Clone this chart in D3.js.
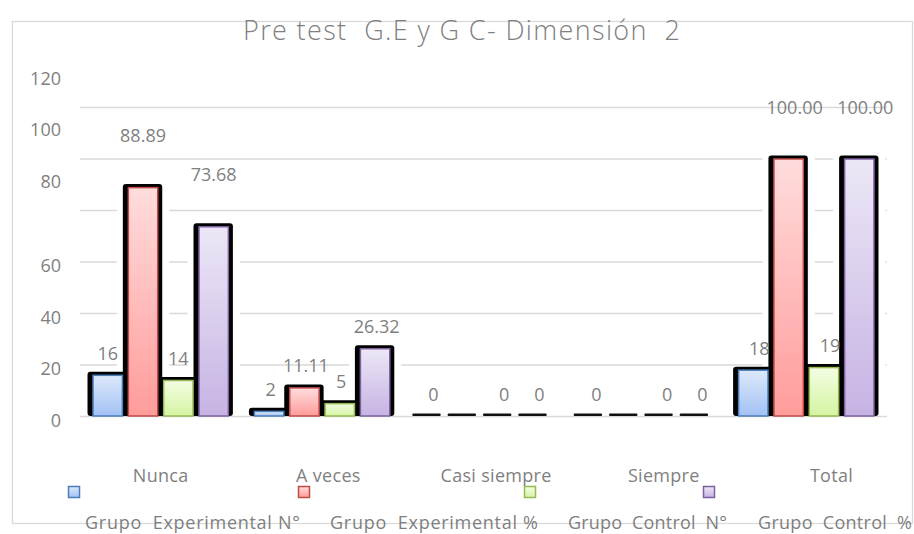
<!DOCTYPE html>
<html>
<head>
  <meta charset="utf-8" />
  <title>Pre test G.E y G C- Dimensión 2</title>
  <style type="text/css">
    body { margin: 0; background: #fff; }
    svg text { font-family: 'Open Sans', sans-serif; fill: #7f7f7f; white-space: pre; }
  </style>
</head>
<body>
  <div id="chart"></div>

  <script src="https://d3js.org/d3.v7.min.js"></script>
  <script>
  // chart data
  var categories = ["Nunca", "A veces", "Casi siempre", "Siempre", "Total"];
  var seriesNames = ["Grupo  Experimental N°", "Grupo  Experimental %", "Grupo  Control  N°", "Grupo  Control  %"];
  var expN    = [16, 2, 0, 0, 18];
  var expPct  = [88.89, 11.11, 0, 0, 100];
  var ctrlN   = [14, 5, 0, 0, 19];
  var ctrlPct = [73.68, 26.32, 0, 0, 100];
  var expNLabels    = ["16", "2", "0", "0", "18"];
  var expPctLabels  = ["88.89", "11.11", "", "", "100.00"];
  var ctrlNLabels   = ["14", "5", "0", "0", "19"];
  var ctrlPctLabels = ["73.68", "26.32", "0", "0", "100.00"];
  var yTicks = [0, 20, 40, 60, 80, 100, 120];

  var seriesValues = [expN, expPct, ctrlN, ctrlPct];
  var seriesLabels = [expNLabels, expPctLabels, ctrlNLabels, ctrlPctLabels];
  var colors = [
    {top: '#dde9fb', bottom: '#a2c1f4', stroke: '#4a7ebb'},
    {top: '#ffdcdc', bottom: '#ff9c9b', stroke: '#be4b48'},
    {top: '#f3fde3', bottom: '#d4f4a2', stroke: '#98b954'},
    {top: '#ece7f6', bottom: '#c6b3e3', stroke: '#7d60a0'}
  ];

  var W = 914, H = 534;
  var plot = {left: 80, right: 887, top: 107, bottom: 416};

  var svg = d3.select('#chart').append('svg').attr('width', W).attr('height', H);

  var defs = svg.append('defs');
  colors.forEach(function (c, i) {
    var g = defs.append('linearGradient').attr('id', 'grad' + i)
      .attr('x1', 0).attr('y1', 0).attr('x2', 0).attr('y2', 1);
    g.append('stop').attr('offset', '0%').attr('stop-color', c.top);
    g.append('stop').attr('offset', '100%').attr('stop-color', c.bottom);
  });

  // outer frame
  svg.append('rect').attr('x', 12.5).attr('y', 21.5).attr('width', 900).attr('height', 502)
    .attr('fill', 'none').attr('stroke', '#d9d9d9').attr('stroke-width', 1.3);

  // title (sits over the frame line)
  svg.append('text').attr('x', 243).attr('y', 40)
    .attr('textLength', 437).attr('lengthAdjust', 'spacing')
    .style('font-size', '27px').style('font-weight', 300)
    .text('Pre test  G.E y G C- Dimensión  2');

  var y = d3.scaleLinear().domain([0, 120]).range([plot.bottom, plot.top]);
  var x0 = d3.scaleBand().domain(categories).range([plot.left, plot.right])
    .paddingInner(0.155).paddingOuter(0.0775);
  var x1 = d3.scaleBand().domain(d3.range(4)).range([0, x0.bandwidth()]).paddingInner(0.14);

  // gridlines
  svg.append('g').attr('transform', 'translate(' + plot.left + ',0)')
    .call(d3.axisLeft(y).tickValues(yTicks).tickSize(-(plot.right - plot.left)).tickFormat(''))
    .call(function (g) {
      g.select('.domain').remove();
      g.selectAll('line').attr('stroke', '#d9d9d9').attr('stroke-width', 1.3);
    });

  // y labels (upper ones drawn higher, as in the original)
  svg.append('g').attr('transform', 'translate(61,0)')
    .call(d3.axisLeft(y).tickValues(yTicks).tickSize(0).tickPadding(0))
    .call(function (g) {
      g.select('.domain').remove();
      g.selectAll('text')
        .attr('fill', '#7f7f7f')
        .style('font-size', '18px')
        .attr('dy', function (d) { return d > 60 ? -23 : 10; });
    });

  var bars = [];
  seriesValues.forEach(function (vals, s) {
    vals.forEach(function (v, i) {
      bars.push({s: s, cat: categories[i], i: i, v: v, label: seriesLabels[s][i]});
    });
  });
  var bx = function (d) { return x0(d.cat) + x1(d.s); };
  var bw = x1.bandwidth();
  var full = bars.filter(function (d) { return d.v > 0; });
  var empty = bars.filter(function (d) { return d.v === 0; });

  // white gap around bars (breaks the gridlines)
  svg.append('g').selectAll('rect').data(full).enter()
    .append('rect')
    .attr('x', function (d) { return bx(d) - 11; })
    .attr('y', function (d) { return y(d.v) - 2; })
    .attr('width', bw + 22)
    .attr('height', function (d) { return plot.bottom - y(d.v) + 1; })
    .attr('fill', '#fff');

  // black shadow
  svg.append('g').selectAll('rect').data(full).enter()
    .append('rect')
    .attr('x', function (d) { return bx(d) - 5; })
    .attr('y', function (d) { return y(d.v) - 3; })
    .attr('width', bw + 9)
    .attr('height', function (d) { return plot.bottom - y(d.v) + 3; })
    .attr('rx', 3)
    .attr('fill', '#000');

  // zero-height bars: only a thin dark dash
  svg.append('g').selectAll('rect').data(empty).enter()
    .append('rect')
    .attr('x', function (d) { return bx(d) - 3; })
    .attr('y', y(0) - 2.5)
    .attr('width', bw - 2)
    .attr('height', 2.5)
    .attr('rx', 1)
    .attr('fill', '#111');

  // bars
  svg.append('g').selectAll('rect').data(full).enter()
    .append('rect')
    .attr('x', function (d) { return bx(d) + 0.5; })
    .attr('y', function (d) { return y(d.v) + 0.5; })
    .attr('width', bw - 1)
    .attr('height', function (d) { return plot.bottom - y(d.v) - 0.5; })
    .attr('fill', function (d) { return 'url(#grad' + d.s + ')'; })
    .attr('stroke', function (d) { return colors[d.s].stroke; })
    .attr('stroke-width', 1.5);

  // data labels
  svg.append('g').selectAll('text').data(bars.filter(function (d) { return d.label !== ''; })).enter()
    .append('text')
    .attr('x', function (d) { return bx(d) + bw / 2 + d.i * 1.5; })
    .attr('y', function (d) { return y(d.v) - (d.v > 60 ? 51 : 21) + 6; })
    .attr('text-anchor', 'middle')
    .style('font-size', '18px')
    .text(function (d) { return d.label; });

  // category labels
  svg.append('g').selectAll('text').data(categories).enter()
    .append('text')
    .attr('x', function (d, i) { return x0(d) + x0.bandwidth() / 2 + i * 6.3; })
    .attr('y', 482)
    .attr('text-anchor', 'middle')
    .style('font-size', '18px')
    .style('letter-spacing', '0.3px')
    .text(function (d) { return d; });

  // legend
  var legendBox = [68, 298, 524, 703];
  var legendText = [85, 330, 568, 758];
  var legendWidth = [215, 208, 159, 154];
  var legend = svg.append('g');
  seriesNames.forEach(function (name, s) {
    legend.append('rect').attr('x', legendBox[s] + 0.5).attr('y', 486.5).attr('width', 11).attr('height', 11)
      .attr('fill', 'url(#grad' + s + ')').attr('stroke', colors[s].stroke).attr('stroke-width', 1.5);
    legend.append('text').attr('x', legendText[s]).attr('y', 529)
      .attr('textLength', legendWidth[s]).attr('lengthAdjust', 'spacing')
      .style('font-size', '18px').text(name);
  });
  </script>
</body>
</html>
